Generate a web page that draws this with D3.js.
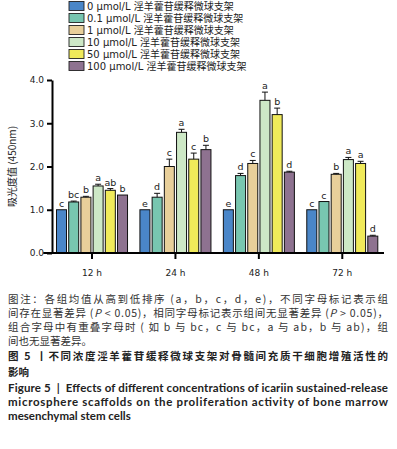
<!DOCTYPE html>
<html>
<head>
<meta charset="utf-8">
<script src="https://cdn.jsdelivr.net/npm/d3@7"></script>
<style>
  body { margin: 0; background: #fff; }
  svg { display: block; }
</style>
</head>
<body>
<div id="chart"></div>
<script>
// time points and groups
const timePoints = ['12 h', '24 h', '48 h', '72 h'];
const seriesNames = [
  '0 μmol/L 淫羊藿苷缓释微球支架',
  '0.1 μmol/L 淫羊藿苷缓释微球支架',
  '1 μmol/L 淫羊藿苷缓释微球支架',
  '10 μmol/L 淫羊藿苷缓释微球支架',
  '50 μmol/L 淫羊藿苷缓释微球支架',
  '100 μmol/L 淫羊藿苷缓释微球支架'
];
const seriesColors = ['#4a86c8', '#78c6b0', '#e8cf9a', '#cde8c6', '#f0ea5a', '#8e7290'];

// mean absorbance per time point (one value per series)
const mean12h = [1.00, 1.18, 1.29, 1.55, 1.45, 1.34];
const mean24h = [1.00, 1.29, 2.00, 2.79, 2.17, 2.39];
const mean48h = [1.00, 1.79, 2.07, 3.53, 3.20, 1.87];
const mean72h = [1.00, 1.19, 1.82, 2.16, 2.07, 0.39];

// error (upper) per time point
const err12h = [0.00, 0.02, 0.02, 0.04, 0.04, 0.00];
const err24h = [0.00, 0.09, 0.17, 0.07, 0.14, 0.10];
const err48h = [0.00, 0.05, 0.07, 0.19, 0.15, 0.02];
const err72h = [0.00, 0.00, 0.02, 0.05, 0.05, 0.02];

// significance letters
const sig12h = ['c', 'bc', 'b', 'a', 'ab', 'b'];
const sig24h = ['e', 'd', 'c', 'a', 'c', 'b'];
const sig48h = ['e', 'd', 'c', 'a', 'b', 'd'];
const sig72h = ['c', 'c', 'b', 'a', 'a', 'd'];

const yTicks = [0, 1, 2, 3, 4];

const means = [mean12h, mean24h, mean48h, mean72h];
const errs = [err12h, err24h, err48h, err72h];
const sigs = [sig12h, sig24h, sig48h, sig72h];

const bars = [];
timePoints.forEach((t, gi) => {
  seriesNames.forEach((s, si) => {
    bars.push({ time: t, series: si, value: means[gi][si], err: errs[gi][si], sig: sigs[gi][si] });
  });
});

const width = 397, height = 449;
const svg = d3.select('#chart').append('svg')
  .attr('width', width).attr('height', height);

const chartFont = '"DejaVu Sans", Verdana, sans-serif';

// scales
const x0 = d3.scaleBand().domain(timePoints).range([50.3, 384]).paddingInner(0).paddingOuter(0);
const x1 = d3.scaleBand().domain(d3.range(seriesNames.length))
  .range([6.2, x0.bandwidth() - 6.2]).paddingInner(0.18).paddingOuter(0);
const y = d3.scaleLinear().domain([0, 4]).range([253, 80]);

// legend
const legend = svg.append('g').attr('class', 'legend');
const legendRow = legend.selectAll('g').data(seriesNames).join('g')
  .attr('transform', (d, i) => `translate(69, ${6 + i * 12})`);
legendRow.append('rect')
  .attr('x', 0).attr('y', -4.5).attr('width', 15).attr('height', 9)
  .attr('fill', (d, i) => seriesColors[i])
  .attr('stroke', '#222').attr('stroke-width', 0.9);
legendRow.append('text')
  .attr('x', 18).attr('y', 0).attr('dy', '0.35em')
  .attr('font-family', chartFont + ', "Noto Sans CJK SC"')
  .attr('font-size', 10).attr('fill', '#222')
  .text(d => d);

// bars
const barG = svg.append('g').attr('class', 'bars');
const barGroups = barG.selectAll('g.bar').data(bars).join('g').attr('class', 'bar')
  .attr('transform', d => `translate(${x0(d.time) + x1(d.series)}, 0)`);

barGroups.append('rect')
  .attr('x', 0)
  .attr('y', d => y(d.value))
  .attr('width', x1.bandwidth())
  .attr('height', d => y(0) - y(d.value))
  .attr('fill', d => seriesColors[d.series])
  .attr('stroke', '#111').attr('stroke-width', 1);

// error bars (upper only)
const ebars = barGroups.filter(d => d.err > 0);
ebars.append('line')
  .attr('x1', x1.bandwidth() / 2).attr('x2', x1.bandwidth() / 2)
  .attr('y1', d => y(d.value)).attr('y2', d => y(d.value + d.err))
  .attr('stroke', '#111').attr('stroke-width', 1);
ebars.append('line')
  .attr('x1', x1.bandwidth() / 2 - 3).attr('x2', x1.bandwidth() / 2 + 3)
  .attr('y1', d => y(d.value + d.err)).attr('y2', d => y(d.value + d.err))
  .attr('stroke', '#111').attr('stroke-width', 1);

// significance letters
barGroups.append('text')
  .attr('x', x1.bandwidth() / 2)
  .attr('y', d => y(d.value + d.err) - 3)
  .attr('text-anchor', 'middle')
  .attr('font-family', chartFont)
  .attr('font-size', 9.5).attr('fill', '#222')
  .text(d => d.sig);

// y axis
const yAxis = d3.axisLeft(y).tickValues(yTicks).tickSize(5).tickSizeOuter(0).tickPadding(3);
const yAxisG = svg.append('g').attr('transform', 'translate(52, 0)').call(yAxis);
yAxisG.select('.domain').attr('stroke', '#000').attr('stroke-width', 2);
yAxisG.selectAll('.tick line').attr('stroke', '#000').attr('stroke-width', 2);
yAxisG.selectAll('.tick text').attr('font-family', chartFont).attr('font-size', 9).attr('fill', '#222');

// x axis
const xAxis = d3.axisBottom(x0).tickSize(6).tickSizeOuter(0).tickPadding(11);
const xAxisG = svg.append('g').attr('transform', `translate(0, ${y(0)})`).call(xAxis);
xAxisG.select('.domain')
  .attr('d', `M${x0.range()[0] - 7},0H${x0.range()[1]}`)
  .attr('stroke', '#000').attr('stroke-width', 2);
xAxisG.selectAll('.tick line').attr('stroke', '#000').attr('stroke-width', 2);
xAxisG.selectAll('.tick text').attr('font-family', chartFont).attr('font-size', 9).attr('fill', '#222');

// y axis title
svg.append('text')
  .attr('transform', `translate(16, ${(y(0) + y(4)) / 2}) rotate(-90)`)
  .attr('text-anchor', 'middle')
  .attr('font-family', '"Noto Sans CJK SC", ' + chartFont)
  .attr('font-size', 10).attr('fill', '#222')
  .text('吸光度值 (450nm)');

// caption
const cjk = '"Noto Sans CJK SC", sans-serif';
const latin = 'Lato, "Open Sans", sans-serif';
const capLeft = 8, capWidth = 380;
const captionLines = [
  { t: [['图注：各组均值从高到低排序 (a，b，c，d，e)，不同字母标记表示组']], y: 303, full: true },
  { t: [['间存在显著差异 ('], ['P', 'i'], [' < 0.05)，相同字母标记表示组间无显著差异 ('], ['P', 'i'], [' > 0.05)，']], y: 317, full: true },
  { t: [['组合字母中有重叠字母时 ( 如 b 与 bc，c 与 bc，a 与 ab，b 与 ab)，组']], y: 331, full: true },
  { t: [['间也无显著差异。']], y: 345, full: false },
];
captionLines.forEach(line => {
  const txt = svg.append('text')
    .attr('x', capLeft).attr('y', line.y)
    .attr('font-family', cjk).attr('font-size', 10.5).attr('fill', '#333');
  line.t.forEach(part => {
    txt.append('tspan').attr('font-style', part[1] === 'i' ? 'italic' : null).text(part[0]);
  });
  if (line.full) txt.attr('textLength', capWidth).attr('lengthAdjust', 'spacing');
});

svg.append('text').attr('x', capLeft).attr('y', 360)
  .attr('font-family', cjk).attr('font-size', 10.5).attr('font-weight', 'bold').attr('fill', '#222')
  .attr('textLength', capWidth).attr('lengthAdjust', 'spacing')
  .text('图 5 丨不同浓度淫羊藿苷缓释微球支架对骨髓间充质干细胞增殖活性的');
svg.append('text').attr('x', capLeft).attr('y', 375.5)
  .attr('font-family', cjk).attr('font-size', 10.5).attr('font-weight', 'bold').attr('fill', '#222')
  .text('影响');

const engLines = [
  ['Figure 5  |  Effects of different concentrations of icariin sustained-release', 391.5, true],
  ['microsphere scaffolds on the proliferation activity of bone marrow', 405.5, true],
  ['mesenchymal stem cells', 419.5, false]
];
engLines.forEach(l => {
  const t = svg.append('text').attr('x', capLeft).attr('y', l[1])
    .attr('font-family', latin).attr('font-size', 11.5).attr('font-weight', 'bold').attr('fill', '#222')
    .attr('xml:space', 'preserve')
    .text(l[0]);
  if (l[2]) t.attr('textLength', capWidth).attr('lengthAdjust', 'spacing');
});
</script>
</body>
</html>
